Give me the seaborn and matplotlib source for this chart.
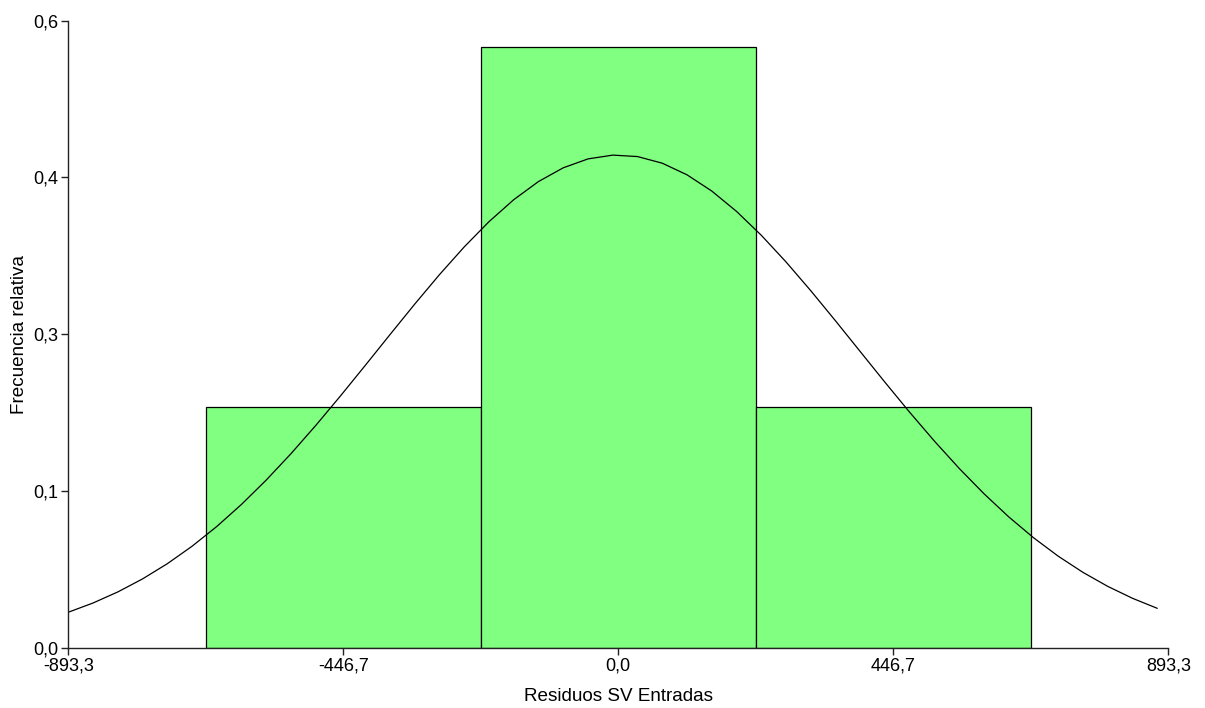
import numpy as np
import pandas as pd
import matplotlib
matplotlib.use("Agg")
import matplotlib.pyplot as plt
import seaborn as sns

# Histogram of residuals (relative frequency per class)
bin_edges = [-670.0, -223.3, 223.3, 670.0]
bin_centers = [-446.7, 0.0, 446.7]
rel_freq = [0.23, 0.575, 0.23]

# Fitted normal curve parameters
curve_mean = 0.0
curve_sd = 389.4
curve_peak = 0.4715
curve_range = (-893.3, 875.4)

x_ticks = [-893.3, -446.7, 0.0, 446.7, 893.3]
x_tick_labels = ["-893,3", "-446,7", "0,0", "446,7", "893,3"]
y_ticks = [0.0, 0.15, 0.30, 0.45, 0.60]
y_tick_labels = ["0,0", "0,1", "0,3", "0,4", "0,6"]

sns.set_theme(style="ticks")
plt.rcParams["font.family"] = ["Liberation Sans", "DejaVu Sans"]

fig = plt.figure(figsize=(12.05, 7.08), dpi=100)
ax = fig.add_axes([68.3 / 1205, 1 - 647.7 / 708, 1100 / 1205, 627 / 708])

hist_df = pd.DataFrame({"x": bin_centers, "w": rel_freq})
sns.histplot(data=hist_df, x="x", weights="w", bins=bin_edges, stat="count",
             color="#80FF80", alpha=1.0, edgecolor="black", linewidth=0.9, ax=ax)

xs = np.linspace(curve_range[0], curve_range[1], 45)
ys = curve_peak * np.exp(-0.5 * ((xs - curve_mean) / curve_sd) ** 2)
sns.lineplot(x=xs, y=ys, color="black", linewidth=0.9, ax=ax)

ax.set_xlim(-893.3, 893.3)
ax.set_ylim(0, 0.6)
ax.set_xticks(x_ticks)
ax.set_xticklabels(x_tick_labels)
ax.set_yticks(y_ticks)
ax.set_yticklabels(y_tick_labels)
ax.set_xlabel("Residuos SV Entradas", fontsize=13.6, color="black", labelpad=9.5)
ax.set_ylabel("Frecuencia relativa", fontsize=13.6, color="black", labelpad=4)

for side in ("top", "right"):
    ax.spines[side].set_visible(False)
for side in ("left", "bottom"):
    ax.spines[side].set_color("#222222")
    ax.spines[side].set_linewidth(1.0)

ax.tick_params(axis="both", direction="out", length=5, width=1.0,
               color="#222222", labelsize=13, labelcolor="black", pad=2)
ax.grid(False)

fig.savefig("out.png", dpi=100, facecolor="white")
